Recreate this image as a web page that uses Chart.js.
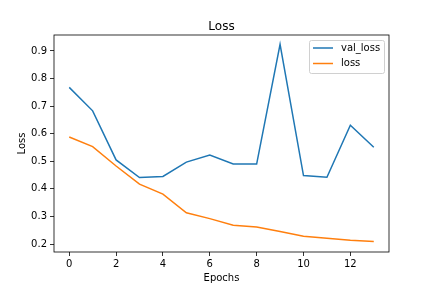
<!DOCTYPE html>
<html>
<head>
<meta charset="utf-8">
<script src="https://cdn.jsdelivr.net/npm/chart.js@4"></script>
<style>
  html, body { margin: 0; padding: 0; background: #fff; }
  #wrap { width: 432px; height: 288px; }
</style>
</head>
<body>
<div id="wrap"><canvas id="lossChart" width="432" height="288"></canvas></div>
<script>
// Values
const epochs = [0, 1, 2, 3, 4, 5, 6, 7, 8, 9, 10, 11, 12, 13];
const valLoss = [0.768, 0.683, 0.505, 0.441, 0.445, 0.497, 0.523, 0.490, 0.490, 0.924, 0.448, 0.442, 0.631, 0.551];
const trainLoss = [0.588, 0.553, 0.483, 0.417, 0.381, 0.313, 0.292, 0.268, 0.262, 0.245, 0.228, 0.221, 0.214, 0.209];
const xTicks = [0, 2, 4, 6, 8, 10, 12];
const yTicks = [0.2, 0.3, 0.4, 0.5, 0.6, 0.7, 0.8, 0.9];

const FONT = 'DejaVu Sans';
const BLUE = '#1f77b4';
const ORANGE = '#ff7f0e';

function toPoints(values) {
    return epochs.map((e, i) => ({ x: e, y: values[i] }));
}

// Frame, title and in-plot legend (matplotlib style)
const decorPlugin = {
    id: 'decor',
    afterDraw(chart) {
        const ctx = chart.ctx;
        const a = chart.chartArea;
        ctx.save();

        // axes frame
        ctx.strokeStyle = '#000';
        ctx.lineWidth = 0.8;
        ctx.strokeRect(a.left, a.top, a.right - a.left, a.bottom - a.top);

        // title
        ctx.fillStyle = '#000';
        ctx.font = '12px "' + FONT + '"';
        ctx.textAlign = 'center';
        ctx.textBaseline = 'alphabetic';
        ctx.fillText('Loss', (a.left + a.right) / 2, a.top - 5);

        // legend box
        const bx = 309.5, by = 40.5, bw = 75, bh = 33, r = 2;
        ctx.beginPath();
        ctx.moveTo(bx + r, by);
        ctx.arcTo(bx + bw, by, bx + bw, by + bh, r);
        ctx.arcTo(bx + bw, by + bh, bx, by + bh, r);
        ctx.arcTo(bx, by + bh, bx, by, r);
        ctx.arcTo(bx, by, bx + bw, by, r);
        ctx.closePath();
        ctx.fillStyle = 'rgba(255,255,255,0.8)';
        ctx.fill();
        ctx.strokeStyle = '#d0d0d0';
        ctx.lineWidth = 1;
        ctx.stroke();

        const entries = [
            { label: 'val_loss', color: BLUE, y: 48 },
            { label: 'loss', color: ORANGE, y: 63.5 }
        ];
        ctx.font = '10px "' + FONT + '"';
        ctx.textAlign = 'left';
        ctx.textBaseline = 'middle';
        entries.forEach(item => {
            ctx.strokeStyle = item.color;
            ctx.lineWidth = 1.5;
            ctx.beginPath();
            ctx.moveTo(313, item.y);
            ctx.lineTo(333, item.y);
            ctx.stroke();
            ctx.fillStyle = '#000';
            ctx.fillText(item.label, 341, item.y);
        });

        ctx.restore();
    }
};

const ctx = document.getElementById('lossChart');
new Chart(ctx, {
    type: 'line',
    data: {
        datasets: [
            {
                label: 'val_loss',
                data: toPoints(valLoss),
                borderColor: BLUE,
                backgroundColor: BLUE,
                borderWidth: 1.5,
                pointRadius: 0,
                tension: 0
            },
            {
                label: 'loss',
                data: toPoints(trainLoss),
                borderColor: ORANGE,
                backgroundColor: ORANGE,
                borderWidth: 1.5,
                pointRadius: 0,
                tension: 0
            }
        ]
    },
    options: {
        responsive: false,
        animation: false,
        devicePixelRatio: 1,
        layout: { padding: { top: 35, right: 43, left: 0, bottom: 0 } },
        plugins: {
            legend: { display: false },
            title: { display: false },
            tooltip: { enabled: false }
        },
        scales: {
            x: {
                type: 'linear',
                min: -0.65,
                max: 13.65,
                afterBuildTicks: scale => { scale.ticks = xTicks.map(v => ({ value: v })); },
                afterFit: scale => { scale.height = 36; },
                grid: { drawOnChartArea: false, drawTicks: true, tickLength: 4, color: '#000', lineWidth: 0.8 },
                border: { display: false },
                ticks: {
                    color: '#000',
                    padding: 2,
                    maxRotation: 0,
                    font: { family: FONT, size: 10 },
                    callback: v => String(v)
                },
                title: {
                    display: true,
                    text: 'Epochs',
                    color: '#000',
                    font: { family: FONT, size: 10 },
                    padding: { top: 0, bottom: 4 }
                }
            },
            y: {
                type: 'linear',
                min: 0.171,
                max: 0.958,
                afterBuildTicks: scale => { scale.ticks = yTicks.map(v => ({ value: v })); },
                afterFit: scale => { scale.width = 54; },
                grid: { drawOnChartArea: false, drawTicks: true, tickLength: 4, color: '#000', lineWidth: 0.8 },
                border: { display: false },
                ticks: {
                    color: '#000',
                    padding: 3,
                    font: { family: FONT, size: 10 },
                    callback: v => v.toFixed(1)
                },
                title: {
                    display: true,
                    text: 'Loss',
                    color: '#000',
                    font: { family: FONT, size: 10 },
                    padding: { top: 16, bottom: 0 }
                }
            }
        }
    },
    plugins: [decorPlugin]
});
</script>
</body>
</html>
